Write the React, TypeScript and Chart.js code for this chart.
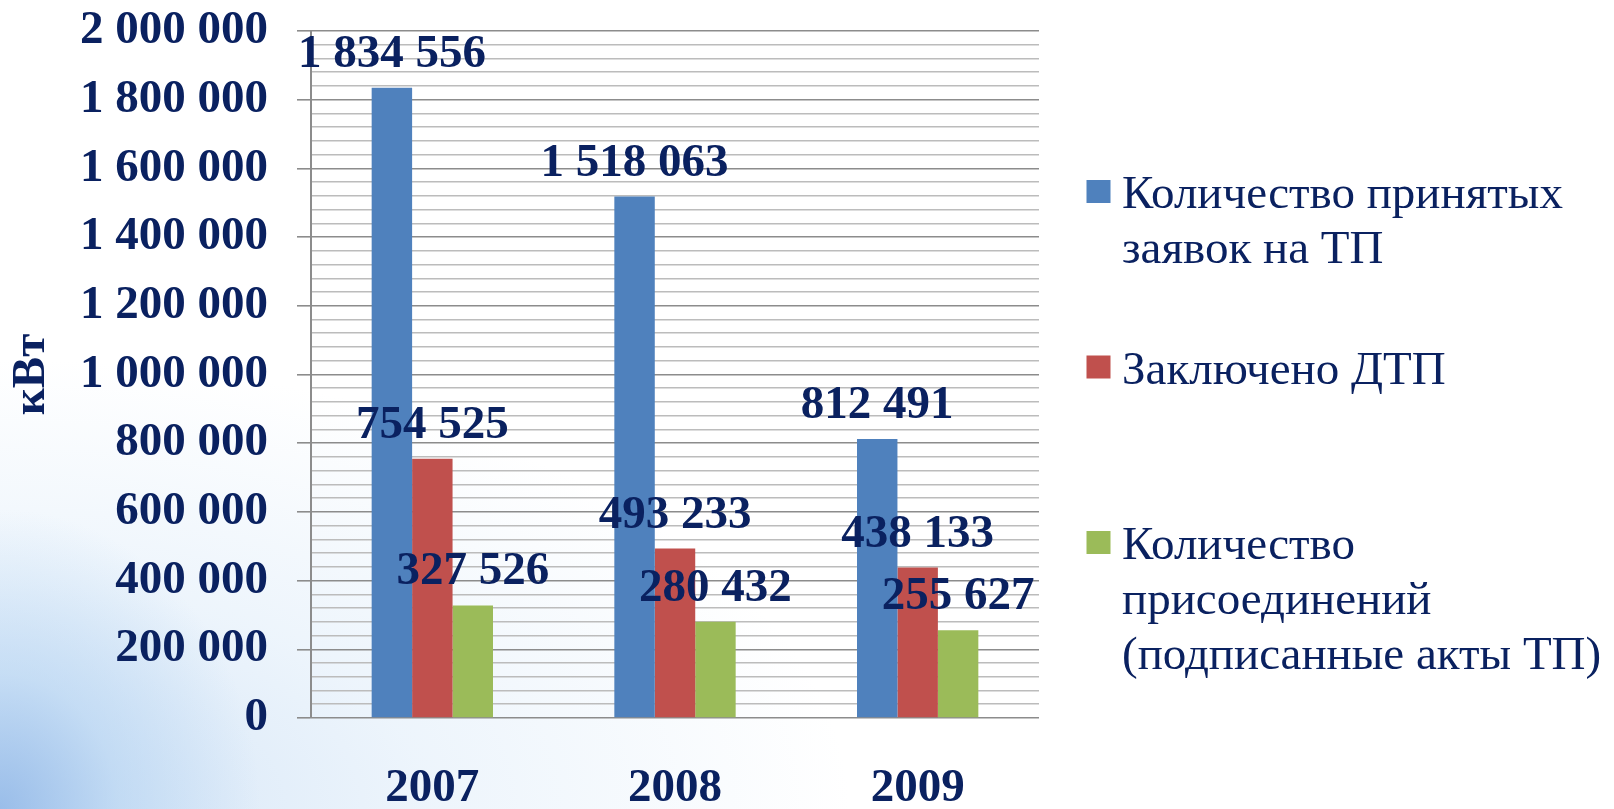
import React, { useEffect, useRef } from 'react';
import { Chart, registerables } from 'chart.js';

Chart.register(...registerables);

// ---- data ----
const categories = ['2007', '2008', '2009'];
const acceptedRequests = [1834556, 1518063, 812491];
const concludedContracts = [754525, 493233, 438133];
const connections = [327526, 280432, 255627];
const seriesLegendLines = [
  ['Количество принятых', 'заявок на ТП'],
  ['Заключено ДТП'],
  ['Количество', 'присоединений', '(подписанные акты ТП)'],
];
const seriesColors = ['#4f81bd', '#c0504d', '#9bbb59'];
const yAxisTitle = 'кВт';
const yMin = 0;
const yMax = 2000000;
const yMajorStep = 200000;
const yMinorStep = 40000;

const W = 1614;
const H = 809;
const NAVY = '#0a2160';
const FONT = "'Liberation Serif', 'Times New Roman', serif";

const fmt = (v: number) => String(Math.round(v)).replace(/\B(?=(\d{3})+(?!\d))/g, ' ');
const isMajor = (v: number) => Math.abs(v % yMajorStep) < 1e-6;

const valueLabelsPlugin = {
  id: 'valueLabels',
  afterDatasetsDraw(chart: any) {
    const ctx = chart.ctx;
    ctx.save();
    ctx.font = `bold 47px ${FONT}`;
    ctx.fillStyle = NAVY;
    ctx.textAlign = 'center';
    ctx.textBaseline = 'alphabetic';
    chart.data.datasets.forEach((ds: any, di: number) => {
      const meta = chart.getDatasetMeta(di);
      meta.data.forEach((bar: any, i: number) => {
        ctx.fillText(fmt(ds.data[i]), bar.x, bar.y - 21);
      });
    });
    ctx.restore();
  },
};

const sideLegendPlugin = {
  id: 'sideLegend',
  afterDraw(chart: any) {
    const ctx = chart.ctx;
    const area = chart.chartArea;
    const boxX = area.right + 47.5;
    const textX = boxX + 35.5;
    const firstBaseline = area.top + 177;
    const itemStep = 175.5;
    const lineH = 55;
    ctx.save();
    ctx.font = `47px ${FONT}`;
    ctx.textAlign = 'left';
    ctx.textBaseline = 'alphabetic';
    chart.data.datasets.forEach((ds: any, di: number) => {
      const base = firstBaseline + di * itemStep;
      ctx.fillStyle = ds.backgroundColor;
      ctx.fillRect(boxX, base - 28, 24, 23);
      ctx.fillStyle = NAVY;
      seriesLegendLines[di].forEach((line, li) => {
        ctx.fillText(line, textX, base + li * lineH);
      });
    });
    ctx.restore();
  },
};

export default function App() {
  const canvasRef = useRef<HTMLCanvasElement | null>(null);

  useEffect(() => {
    document.body.style.margin = '0';
    const canvas = canvasRef.current;
    if (!canvas) return;
    const seriesData = [acceptedRequests, concludedContracts, connections];
    const chart = new Chart(canvas, {
      type: 'bar',
      data: {
        labels: categories,
        datasets: seriesData.map((d, i) => ({
          label: seriesLegendLines[i].join(' '),
          data: d,
          backgroundColor: seriesColors[i],
          borderWidth: 0,
          categoryPercentage: 0.5,
          barPercentage: 1.0,
        })),
      },
      options: {
        responsive: false,
        animation: false,
        devicePixelRatio: 1,
        layout: { padding: { top: 31, right: 575, left: 0, bottom: 0 } },
        plugins: {
          legend: { display: false },
          tooltip: { enabled: false },
        },
        scales: {
          x: {
            grid: { display: false, drawTicks: false },
            border: { display: false },
            ticks: {
              color: NAVY,
              font: { family: FONT, size: 47, weight: 'bold' },
              padding: 43,
            },
            afterFit(scale: any) {
              scale.height = 91;
              scale.paddingLeft = 0;
              scale.paddingRight = 0;
            },
          },
          y: {
            min: yMin,
            max: yMax,
            title: {
              display: true,
              text: yAxisTitle,
              color: NAVY,
              font: { family: FONT, size: 47, weight: 'bold' },
              padding: { top: 4, bottom: 0 },
            },
            border: { display: true, color: '#8c8c8c', width: 2 },
            grid: {
              color: (c: any) => (isMajor(c.tick.value) ? '#8c8c8c' : '#bcbcbc'),
              lineWidth: 1.6,
              tickColor: (c: any) => (isMajor(c.tick.value) ? '#8c8c8c' : 'rgba(0,0,0,0)'),
              tickLength: 14,
            },
            ticks: {
              stepSize: yMinorStep,
              maxTicksLimit: 1000,
              autoSkip: false,
              color: NAVY,
              font: { family: FONT, size: 47, weight: 'bold' },
              padding: 29,
              callback: (v: any) => (isMajor(Number(v)) ? fmt(Number(v)) : ''),
            },
            afterFit(scale: any) {
              scale.width = 311;
              scale.paddingTop = 0;
              scale.paddingBottom = 0;
            },
          },
        },
      },
      plugins: [valueLabelsPlugin, sideLegendPlugin],
    } as any);
    return () => chart.destroy();
  }, []);

  return (
    <div
      style={{
        position: 'fixed',
        left: 0,
        top: 0,
        width: W,
        height: H,
        overflow: 'hidden',
        background:
          'radial-gradient(ellipse 260px 300px at 0px 809px, rgba(140,180,230,0.8) 0%, rgba(170,205,240,0.5) 45%, rgba(255,255,255,0) 100%), ' +
          'radial-gradient(ellipse 850px 450px at 0px 809px, rgba(190,215,242,0.7) 0%, rgba(215,232,248,0.45) 50%, rgba(255,255,255,0) 100%), #ffffff',
      }}
    >
      <canvas ref={canvasRef} width={W} height={H} style={{ display: 'block' }} />
    </div>
  );
}
